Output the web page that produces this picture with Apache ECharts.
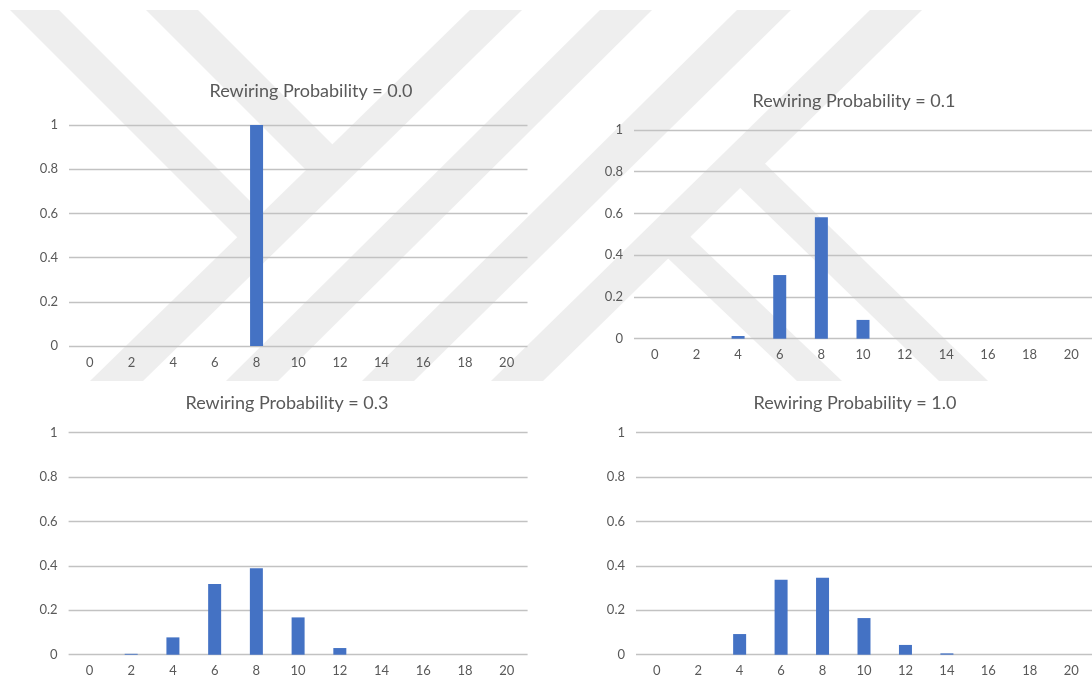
<!DOCTYPE html>
<html>
<head>
<meta charset="utf-8">
<script src="https://cdn.jsdelivr.net/npm/echarts@6/dist/echarts.min.js"></script>
<style>
html,body{margin:0;padding:0;background:#ffffff;}
#chart{width:1092px;height:678px;}
</style>
</head>
<body>
<div id="chart"></div>
<script>
// ---- data ----
const degrees = ['0','2','4','6','8','10','12','14','16','18','20'];
const probP00 = [0, 0, 0, 0, 1.0, 0, 0, 0, 0, 0, 0];
const probP01 = [0, 0, 0.013, 0.305, 0.582, 0.090, 0, 0, 0, 0, 0];
const probP03 = [0, 0.004, 0.078, 0.318, 0.389, 0.168, 0.030, 0, 0, 0, 0];
const probP10 = [0, 0, 0.093, 0.338, 0.347, 0.165, 0.044, 0.006, 0, 0, 0];
const panelTitles = [
  'Rewiring Probability = 0.0',
  'Rewiring Probability = 0.1',
  'Rewiring Probability = 0.3',
  'Rewiring Probability = 1.0'
];
const panelData = [probP00, probP01, probP03, probP10];

// ---- layout (pixels) ----
const grids = [
  {left: 69,  top: 125,   width: 458.5, height: 221},
  {left: 634, top: 130,   width: 461,   height: 208.7},
  {left: 68.6,top: 432.7, width: 459,   height: 222},
  {left: 636, top: 432.7, width: 458,   height: 222}
];
const titlePos = [[311, 93], [854, 103], [287, 405], [855, 405]];

const FONT = 'Lato, Carlito, "Liberation Sans", sans-serif';
const TEXT = '#595959';
const GRIDLINE = '#c2c2c2';
const BAR = '#4472c4';
const WM = '#eeeeee';

// watermark polygons
const watermark = [
  [[470,10],[522,10],[143,381],[90,381]],
  [[600,10],[652,10],[278,381],[226,381]],
  [[737,10],[791,10],[414,381],[362,381]],
  [[870,10],[922,10],[543,381],[491,381]],
  [[10,10],[59,10],[275,226],[250,250]],
  [[146,10],[198,10],[345,157],[319,183]],
  [[677,224],[842,381],[797,381],[655,246]],
  [[752,151],[988,381],[939,381],[727,175]]
];

const option = {
  backgroundColor: '#ffffff',
  animation: false,
  graphic: watermark.map(pts => ({
    type: 'polygon', silent: true, z: -100,
    shape: {points: pts},
    style: {fill: WM}
  })),
  title: panelTitles.map((t, i) => ({
    text: t,
    left: titlePos[i][0],
    top: titlePos[i][1] - 11,
    textAlign: 'center',
    padding: 0,
    textStyle: {fontFamily: FONT, fontSize: 18, fontWeight: 'normal', color: TEXT}
  })),
  grid: grids.map(g => Object.assign({containLabel: false}, g)),
  xAxis: grids.map((g, i) => ({
    type: 'category',
    gridIndex: i,
    data: degrees,
    boundaryGap: true,
    axisLine: {show: false},
    axisTick: {show: false},
    axisLabel: {color: TEXT, fontFamily: FONT, fontSize: 13, margin: 10, interval: 0},
    splitLine: {show: false}
  })),
  yAxis: grids.map((g, i) => ({
    type: 'value',
    gridIndex: i,
    min: 0, max: 1, interval: 0.2,
    axisLine: {show: false},
    axisTick: {show: false},
    axisLabel: {color: TEXT, fontFamily: FONT, fontSize: 13, margin: 11},
    splitLine: {show: true, lineStyle: {color: GRIDLINE, width: 1.3}}
  })),
  series: panelData.map((d, i) => ({
    type: 'bar',
    xAxisIndex: i,
    yAxisIndex: i,
    data: d,
    barWidth: 13,
    itemStyle: {color: BAR},
    silent: true
  }))
};

const chart = echarts.init(document.getElementById('chart'), null, {renderer: 'canvas'});
chart.setOption(option);
</script>
</body>
</html>
